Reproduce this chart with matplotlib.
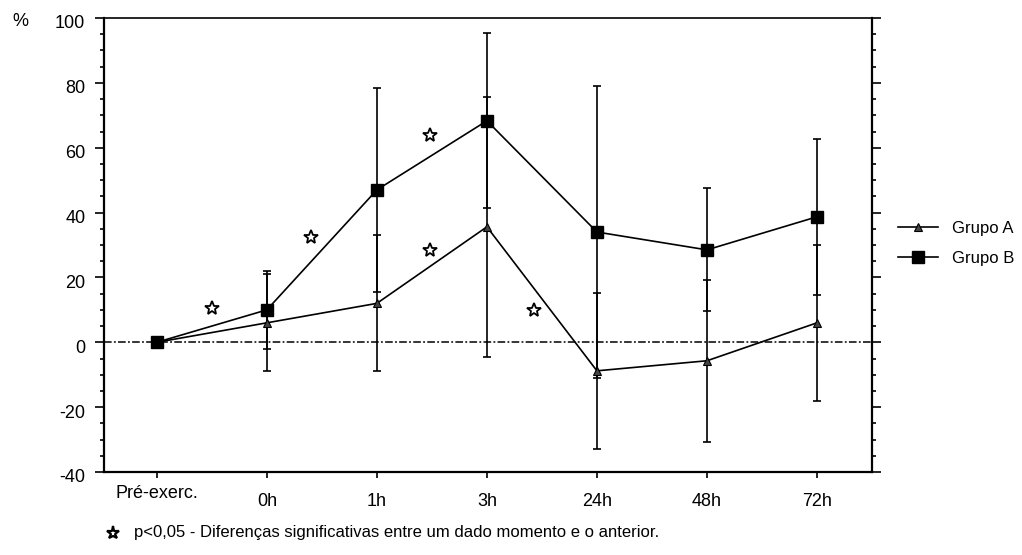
import matplotlib
matplotlib.use("Agg")
import matplotlib.pyplot as plt
from matplotlib.ticker import MultipleLocator
from matplotlib.lines import Line2D
import matplotlib.transforms as mtransforms

plt.rcParams['font.family'] = ['Liberation Sans', 'DejaVu Sans']
plt.rcParams['axes.unicode_minus'] = False

categories = ["Pré-exerc.", "0h", "1h", "3h", "24h", "48h", "72h"]
grupo_a = [0, 6, 12, 35.6, -8.8, -5.7, 6]
grupo_a_err = [0, 15, 21, 40, 24, 25, 24]
grupo_b = [0, 10, 47, 68.3, 34, 28.5, 38.7]
grupo_b_err = [0, 12, 31.5, 27, 45, 19, 24]
star_x = [0.5, 1.4, 2.48, 2.48, 3.43]
star_y = [10.5, 32.5, 64, 28.5, 10]
yticks = [-40, -20, 0, 20, 40, 60, 80, 100]

narrow = ['Liberation Sans Narrow', 'Liberation Sans', 'DejaVu Sans']

W, H = 1022, 555
fig = plt.figure(figsize=(W / 100, H / 100), dpi=100)
ax = fig.add_axes([104 / W, 83 / H, 768 / W, 454 / H])

x = list(range(len(categories)))

ax.axhline(0, color='black', lw=1.1, dashes=(5, 1.5, 1.2, 1.5), zorder=1)

ax.errorbar(x[1:], grupo_a[1:], yerr=grupo_a_err[1:], fmt='none', ecolor='black',
            elinewidth=1.2, capsize=3, capthick=1.2, zorder=2)
ax.errorbar(x[1:], grupo_b[1:], yerr=grupo_b_err[1:], fmt='none', ecolor='black',
            elinewidth=1.2, capsize=3, capthick=1.2, zorder=2)

ax.plot(x, grupo_a, color='black', lw=1.2, marker='^', markersize=6,
        markerfacecolor='#444444', markeredgecolor='black', markeredgewidth=0.8, zorder=3)
ax.plot(x, grupo_b, color='black', lw=1.2, marker='s', markersize=9,
        markerfacecolor='black', markeredgecolor='black', zorder=4)

ax.plot(star_x, star_y, linestyle='none', marker='*', markersize=10.5,
        markerfacecolor='white', markeredgecolor='black', markeredgewidth=1.3, zorder=5)

ax.set_xlim(-0.48, 6.5)
ax.set_ylim(-40, 100)
ax.set_yticks(yticks)
ax.yaxis.set_minor_locator(MultipleLocator(5))
ax.tick_params(axis='y', which='major', direction='out', length=6.5, width=1.2,
               labelsize=13, pad=7, right=True)
ax.tick_params(axis='y', which='minor', direction='out', length=3, width=1.2, right=True)
# y tick labels sit a little below their ticks in the original
offset = mtransforms.ScaledTranslation(0, -4 / 100, fig.dpi_scale_trans)
for lab in ax.get_yticklabels():
    lab.set_transform(lab.get_transform() + offset)
ax.set_xticks(x)
ax.set_xticklabels([])
ax.tick_params(axis='x', which='major', direction='out', length=4, width=1.2)
for s in ax.spines.values():
    s.set_linewidth(1.6)
ax.spines['top'].set_linewidth(1.2)

# category labels (first one sits slightly higher, as in the original)
for i, lab in enumerate(categories):
    yy = 494 if i == 0 else 501
    fig.text((104 + (i + 0.48) * 768 / 6.98) / W, 1 - yy / H, lab,
             ha='center', va='center', fontsize=13)

fig.text(20 / W, 1 - 21 / H, '%', ha='center', va='center', fontsize=13)

# legend
h_a = Line2D([], [], color='black', lw=1.2, marker='^', markersize=6,
             markerfacecolor='#444444', markeredgecolor='black', markeredgewidth=0.8)
h_b = Line2D([], [], color='black', lw=1.2, marker='s', markersize=9,
             markerfacecolor='black', markeredgecolor='black')
fig.legend([h_a, h_b], ['Grupo A', 'Grupo B'], loc='center left',
           bbox_to_anchor=(898 / W, 1 - 243 / H), frameon=False, borderpad=0,
           borderaxespad=0, handlelength=2.4, handletextpad=0.85, labelspacing=0.9,
           prop={'family': narrow, 'size': 12})

# footnote
fig.add_artist(Line2D([113 / W], [1 - 533 / H], transform=fig.transFigure,
                      linestyle='none', marker='*', markersize=9.5,
                      markerfacecolor='white', markeredgecolor='black',
                      markeredgewidth=1.6))
fig.text(134 / W, 1 - 533 / H,
         'p<0,05 - Diferenças significativas entre um dado momento e o anterior.',
         ha='left', va='center', fontsize=12, family=narrow)

fig.savefig('out.png', dpi=100)
